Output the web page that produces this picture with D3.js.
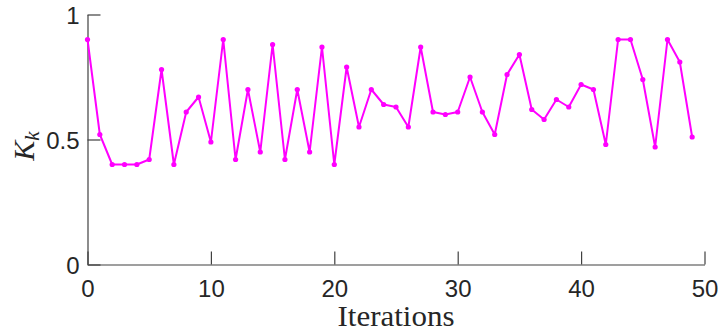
<!DOCTYPE html>
<html>
<head>
<meta charset="utf-8">
<script src="https://cdn.jsdelivr.net/npm/d3@7"></script>
<style>
  body { margin: 0; background: #fff; }
  svg { display: block; }
</style>
</head>
<body>
<svg width="720" height="335"></svg>
<script>
// iteration index and K_k value
const iterations = d3.range(0, 50);
const kValues = [
  0.90, 0.52, 0.40, 0.40, 0.40, 0.42, 0.78, 0.40, 0.61, 0.67,
  0.49, 0.90, 0.42, 0.70, 0.45, 0.88, 0.42, 0.70, 0.45, 0.87,
  0.40, 0.79, 0.55, 0.70, 0.64, 0.63, 0.55, 0.87, 0.61, 0.60,
  0.61, 0.75, 0.61, 0.52, 0.76, 0.84, 0.62, 0.58, 0.66, 0.63,
  0.72, 0.70, 0.48, 0.90, 0.90, 0.74, 0.47, 0.90, 0.81, 0.51
];
const xTicks = [0, 10, 20, 30, 40, 50];
const yTicks = [0, 0.5, 1];
const yTickLabels = ['0', '0.5', '1'];

let svg = d3.select('svg');
let axisColor = '#404040';
let lineColor = '#ff00ff';

let x = d3.scaleLinear().domain([0, 50]).range([87.5, 704.5]);
let y = d3.scaleLinear().domain([0, 1]).range([264.5, 14.5]);

// axes (only left and bottom, ticks pointing inward)
let xAxis = svg.append('g')
  .attr('transform', `translate(0,${y(0)})`)
  .call(d3.axisBottom(x).tickValues(xTicks).tickSizeInner(-13).tickSizeOuter(0));

let yAxis = svg.append('g')
  .attr('transform', `translate(${x(0)},0)`)
  .call(d3.axisLeft(y).tickValues(yTicks).tickSizeInner(-13).tickSizeOuter(0)
    .tickFormat((d, i) => yTickLabels[i]));

[xAxis, yAxis].forEach((g) => {
  g.select('.domain').attr('stroke', axisColor).attr('stroke-width', 1.2);
  g.selectAll('.tick line').attr('stroke', axisColor).attr('stroke-width', 1.2);
  g.selectAll('.tick text')
    .attr('fill', '#262626')
    .attr('font-family', '"Liberation Sans", Arial, Helvetica, sans-serif')
    .attr('font-size', 24);
});

// put tick labels where the reference has them
xAxis.selectAll('.tick text').attr('dy', null).attr('y', 32.5);
yAxis.selectAll('.tick text').attr('dy', '0.36em').attr('x', -8);

// data line
let line = d3.line()
  .x((d, i) => x(iterations[i]))
  .y((d) => y(d));

svg.append('path')
  .datum(kValues)
  .attr('d', line)
  .attr('fill', 'none')
  .attr('stroke', lineColor)
  .attr('stroke-width', 2)
  .attr('stroke-linejoin', 'round');

svg.append('g').selectAll('circle')
  .data(kValues)
  .enter().append('circle')
  .attr('cx', (d, i) => x(iterations[i]))
  .attr('cy', (d) => y(d))
  .attr('r', 2.6)
  .attr('fill', lineColor);

// axis titles
svg.append('text')
  .attr('x', 396)
  .attr('y', 326)
  .attr('text-anchor', 'middle')
  .attr('font-family', '"Liberation Serif", "DejaVu Serif", serif')
  .attr('font-size', 29)
  .attr('fill', '#262626')
  .attr('textLength', 117)
  .attr('lengthAdjust', 'spacingAndGlyphs')
  .text('Iterations');

let yTitle = svg.append('text')
  .attr('transform', 'translate(34,146) rotate(-90)')
  .attr('text-anchor', 'middle')
  .attr('font-family', '"Liberation Serif", "DejaVu Serif", serif')
  .attr('font-style', 'italic')
  .attr('fill', '#262626');
yTitle.append('tspan').attr('font-size', 30).text('K');
yTitle.append('tspan').attr('font-size', 21).attr('dy', 5).text('k');
</script>
</body>
</html>
